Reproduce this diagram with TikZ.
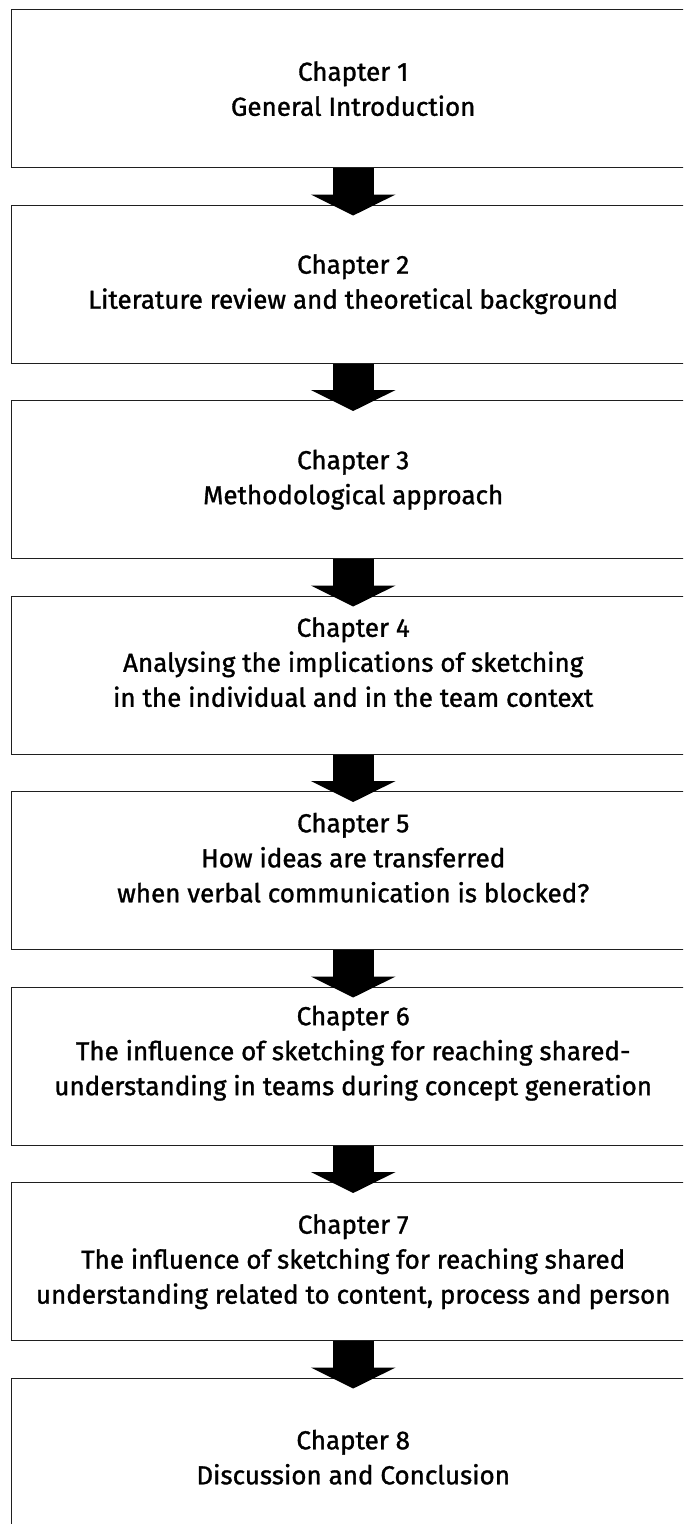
\documentclass[tikz,border=0pt]{standalone}
\usepackage{fontspec}
\setmainfont{Fira Sans}
\newfontfamily\chapfont{Fira Sans}[FakeBold=1.2]
\usetikzlibrary{arrows.meta,calc}
\begin{document}
\begin{tikzpicture}[x=1pt,y=-1pt,
  chapbox/.style={draw=black!88, line width=1.4pt, minimum width=683pt,
    minimum height=158pt, inner sep=0pt, anchor=north west},
  chaptext/.style={align=center, inner sep=0pt,
    font=\chapfont\fontsize{26}{35}\selectfont},
  flow/.style={line width=41pt, black,
    -{Triangle[width=84pt,length=21pt]}}]
\useasboundingbox (0,0) rectangle (683,1524);
\clip (0,0) rectangle (683,1524);

% chapter boxes, one every 195.5pt
\foreach \k in {1,...,8}
  \node[chapbox] (b\k) at (11,{9+(\k-1)*195.5}) {};

% chapter titles
\node[chaptext] (t1) at (b1.center) {Chapter 1\\General Introduction};
\node[chaptext] (t2) at (b2.center) {Chapter 2\\Literature review and theoretical background};
\node[chaptext] (t3) at (b3.center) {Chapter 3\\Methodological approach};
\node[chaptext, yshift=13pt] (t4) at (b4.center) {Chapter 4\\Analysing the implications of sketching\\in the individual and in the team context};
\node[chaptext, yshift=13pt] (t5) at (b5.center) {Chapter 5\\How ideas are transferred\\when verbal communication is blocked?};
\node[chaptext, yshift=13pt] (t6) at (b6.center) {Chapter 6\\The influence of sketching for reaching shared-\\understanding in teams during concept generation};
\node[chaptext] (t7) at (b7.center) {Chapter 7\\The influence of sketching for reaching shared\\understanding related to content, process and person};
\node[chaptext] (t8) at (b8.center) {Chapter 8\\Discussion and Conclusion};

% block arrows between consecutive chapters
\foreach \k [evaluate=\k as \n using int(\k+1)] in {1,...,7}
  \draw[flow] (b\k.south) -- ($(b\n.north)+(0,11)$);
\end{tikzpicture}
\end{document}
